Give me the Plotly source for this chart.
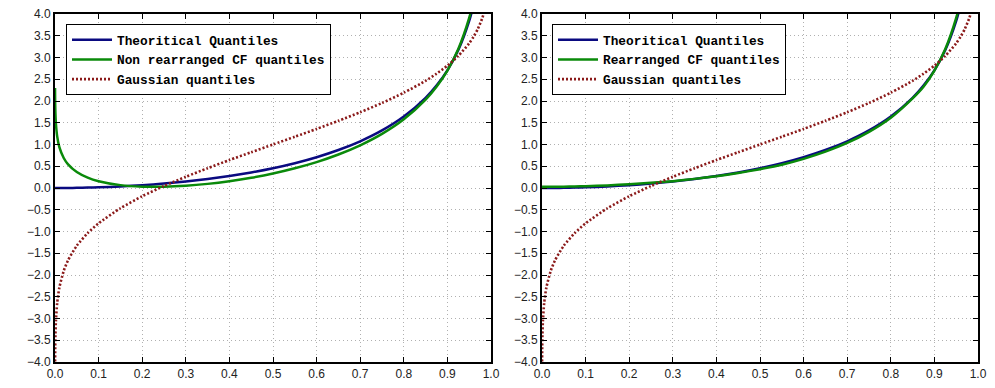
import plotly.graph_objects as go

# probability levels (x axis)
p = [0.0001, 0.0002, 0.0005, 0.001, 0.002, 0.005, 0.01, 0.02, 0.03, 0.05, 0.075,
     0.1, 0.15, 0.2, 0.25, 0.3, 0.35, 0.4, 0.45, 0.5, 0.55, 0.6, 0.65, 0.7,
     0.75, 0.8, 0.85, 0.875, 0.9, 0.925, 0.95, 0.96, 0.97, 0.98, 0.985]

theoretical = [0.0, 0.0, 0.0, 0.0, 0.0, 0.00004, 0.00016, 0.00063, 0.0014, 0.0039, 0.0089,
               0.0158, 0.0358, 0.0642, 0.1015, 0.1485, 0.2059, 0.2750, 0.3573, 0.4549,
               0.5707, 0.7083, 0.8735, 1.0742, 1.3233, 1.6424, 2.0723, 2.354, 2.7055,
               3.170, 3.8415, 4.218, 4.71, 5.41, 5.92]

non_rearranged_cf = [2.297, 2.141, 1.909, 1.710, 1.494, 1.188, 0.941, 0.690, 0.543, 0.366,
                     0.237, 0.155, 0.066, 0.031, 0.030, 0.052, 0.095, 0.156, 0.235, 0.333,
                     0.453, 0.596, 0.770, 0.981, 1.244, 1.580, 2.032, 2.328, 2.701, 3.195,
                     3.909, 4.312, 4.85, 5.6, 6.2]

rearranged_cf = [0.027, 0.027, 0.027, 0.027, 0.027, 0.027, 0.027, 0.028, 0.029, 0.031,
                 0.036, 0.042, 0.060, 0.085, 0.120, 0.158, 0.210, 0.270, 0.345, 0.433,
                 0.535, 0.670, 0.835, 1.035, 1.290, 1.615, 2.060, 2.328, 2.701, 3.195,
                 3.909, 4.312, 4.85, 5.6, 6.2]

gaussian = [-4.26, -4.006, -3.654, -3.370, -3.070, -2.643, -2.290, -1.905, -1.660, -1.326,
            -1.037, -0.812, -0.465, -0.190, 0.046, 0.258, 0.455, 0.642, 0.822, 1.0,
            1.178, 1.358, 1.545, 1.742, 1.954, 2.190, 2.465, 2.627, 2.812, 3.037,
            3.326, 3.476, 3.660, 3.905, 4.069]

x_ticks = [0.0, 0.1, 0.2, 0.3, 0.4, 0.5, 0.6, 0.7, 0.8, 0.9, 1.0]
y_ticks = [-4.0, -3.5, -3.0, -2.5, -2.0, -1.5, -1.0, -0.5, 0.0, 0.5, 1.0, 1.5, 2.0, 2.5, 3.0, 3.5, 4.0]

BLUE = "#0a0a80"
GREEN = "#0a8a0a"
RED = "#8b1a1a"

fig = go.Figure()

def add_panel(xa, ya, legend, cf_vals, cf_name):
    fig.add_trace(go.Scatter(x=p, y=theoretical, mode="lines", name="Theoritical Quantiles",
                             line=dict(color=BLUE, width=2.5, shape="spline", smoothing=0.6),
                             xaxis=xa, yaxis=ya, legend=legend))
    fig.add_trace(go.Scatter(x=p, y=cf_vals, mode="lines", name=cf_name,
                             line=dict(color=GREEN, width=2.5, shape="spline", smoothing=0.6),
                             xaxis=xa, yaxis=ya, legend=legend))
    fig.add_trace(go.Scatter(x=p, y=gaussian, mode="lines", name="Gaussian quantiles",
                             line=dict(color=RED, width=2.6, dash="2px,2px", shape="spline", smoothing=0.6),
                             xaxis=xa, yaxis=ya, legend=legend))

add_panel("x", "y", "legend", non_rearranged_cf, "Non rearranged CF quantiles")
add_panel("x2", "y2", "legend2", rearranged_cf, "Rearranged CF quantiles")

axis_common = dict(showline=True, linecolor="black", linewidth=2, mirror="ticks",
                   ticks="inside", ticklen=5, tickwidth=1, tickcolor="black",
                   showgrid=True, gridcolor="#b0b0b0", gridwidth=1, griddash="1px,3px",
                   zeroline=False, automargin=False,
                   tickfont=dict(family="Liberation Sans, Arial, sans-serif", size=12, color="#222"))

L, R, T, B = 55, 17, 14, 26
W, H = 995, 388
pw = W - L - R
legend_font = dict(family="Liberation Mono, Courier New, monospace", size=12.8, color="black", weight="bold")
fig.update_layout(
    width=W, height=H, template="none",
    margin=dict(l=L, r=R, t=T, b=B),
    paper_bgcolor="white", plot_bgcolor="white",
    xaxis=dict(domain=[0, 436 / pw], range=[0, 1], tickvals=x_ticks, tickformat=".1f", **axis_common),
    yaxis=dict(domain=[0, 1], range=[-4, 4], tickvals=y_ticks, tickformat=".1f", **axis_common),
    xaxis2=dict(domain=[(542 - L) / pw, 1], range=[0, 1], tickvals=x_ticks, tickformat=".1f",
                anchor="y2", **axis_common),
    yaxis2=dict(domain=[0, 1], range=[-4, 4], tickvals=y_ticks, tickformat=".1f",
                anchor="x2", **axis_common),
    legend=dict(x=(66 - L) / pw, y=1 - (24 - T) / (H - T - B), xanchor="left", yanchor="top",
                bgcolor="white", bordercolor="black", borderwidth=1,
                font=legend_font, tracegroupgap=0, itemwidth=40),
    legend2=dict(x=(552 - L) / pw, y=1 - (24 - T) / (H - T - B), xanchor="left", yanchor="top",
                 bgcolor="white", bordercolor="black", borderwidth=1,
                 font=legend_font, tracegroupgap=0, itemwidth=40),
    showlegend=True,
)

fig.write_html("out.html")
